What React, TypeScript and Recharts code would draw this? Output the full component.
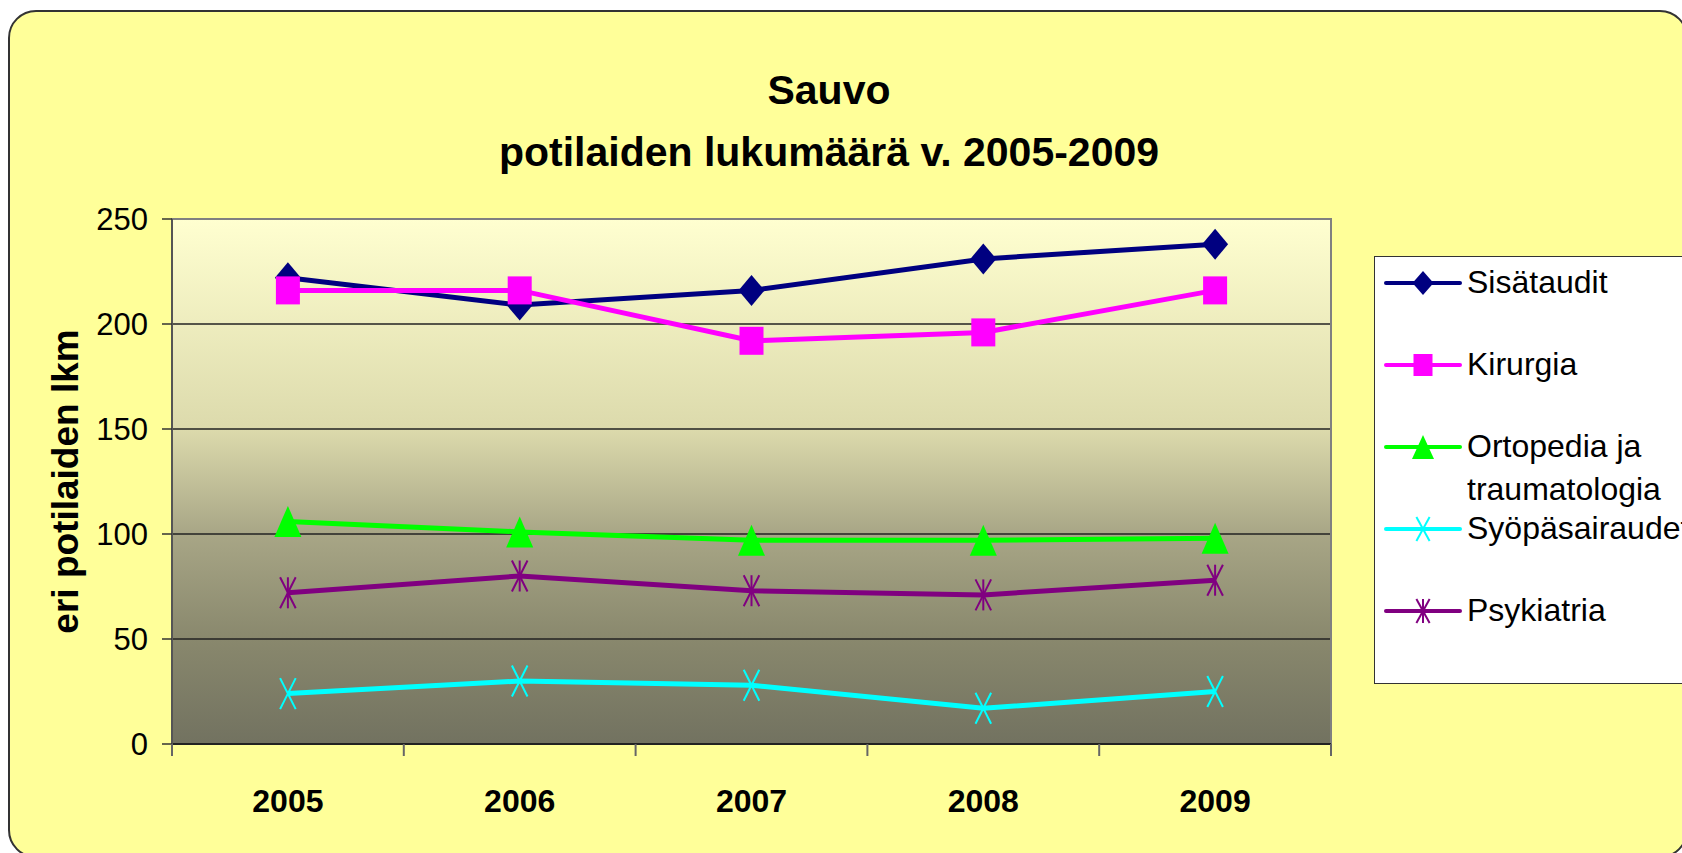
import React from 'react'
import {
  ComposedChart,
  Line,
  XAxis,
  YAxis,
  CartesianGrid,
  Legend,
  ReferenceArea,
} from 'recharts'

const years = ['2005', '2006', '2007', '2008', '2009']
const sisataudit = [222, 209, 216, 231, 238]
const kirurgia = [216, 216, 192, 196, 216]
const ortopedia = [106, 101, 97, 97, 98]
const syopasairaudet = [24, 30, 28, 17, 25]
const psykiatria = [72, 80, 73, 71, 78]
const yTicks = [0, 50, 100, 150, 200, 250]

const FONT = '"Liberation Sans", Arial, sans-serif'

type Shape = 'diamond' | 'square' | 'triangle' | 'x' | 'star'

const series: { key: string; name: string; color: string; shape: Shape }[] = [
  { key: 'sis', name: 'Sisätaudit', color: '#000080', shape: 'diamond' },
  { key: 'kir', name: 'Kirurgia', color: '#FF00FF', shape: 'square' },
  { key: 'ort', name: 'Ortopedia ja traumatologia', color: '#00FF00', shape: 'triangle' },
  { key: 'syo', name: 'Syöpäsairaudet', color: '#00FFFF', shape: 'x' },
  { key: 'psy', name: 'Psykiatria', color: '#800080', shape: 'star' },
]

const data = years.map((year, i) => ({
  year,
  sis: sisataudit[i],
  kir: kirurgia[i],
  ort: ortopedia[i],
  syo: syopasairaudet[i],
  psy: psykiatria[i],
}))

// marker sizes (w, h) in the plot and in the legend
const plotSize: Record<Shape, [number, number]> = {
  diamond: [26, 31],
  square: [24, 28],
  triangle: [27, 31],
  x: [26, 31],
  star: [26, 31],
}
const legendSize: Record<Shape, [number, number]> = {
  diamond: [21, 24],
  square: [19, 22],
  triangle: [22, 24],
  x: [22, 24],
  star: [22, 24],
}

const PLOT_W = 1159

function Marker({ shape, cx, cy, color, w, h }: { shape: Shape; cx: number; cy: number; color: string; w: number; h: number }) {
  const l = cx - w / 2
  const r = cx + w / 2
  const t = cy - h / 2
  const b = cy + h / 2
  if (shape === 'diamond') {
    return <polygon points={`${cx},${t} ${r},${cy} ${cx},${b} ${l},${cy}`} fill={color} />
  }
  if (shape === 'square') {
    return <rect x={l} y={t} width={w} height={h} fill={color} />
  }
  if (shape === 'triangle') {
    return <polygon points={`${cx},${t} ${r},${b} ${l},${b}`} fill={color} />
  }
  return (
    <g stroke={color} strokeWidth={2}>
      <line x1={l + w * 0.2} y1={t} x2={r - w * 0.2} y2={b} />
      <line x1={r - w * 0.2} y1={t} x2={l + w * 0.2} y2={b} />
      {shape === 'star' && <line x1={cx} y1={t} x2={cx} y2={b} />}
    </g>
  )
}

// year label centred in its band, tick marks on the band edges (Excel style)
function YearTick(props: any) {
  const { x, y, payload, index, visibleTicksCount } = props
  const count = visibleTicksCount || years.length
  const axisW = typeof props.width === 'number' && props.width > 100 ? props.width : PLOT_W
  const half = axisW / count / 2
  return (
    <g>
      <line x1={x - half} y1={y} x2={x - half} y2={y + 12} stroke="#666" strokeWidth={2} />
      {index === count - 1 && (
        <line x1={x + half} y1={y} x2={x + half} y2={y + 12} stroke="#666" strokeWidth={2} />
      )}
      <text
        x={x}
        y={y + 68}
        textAnchor="middle"
        fontSize={32}
        fontWeight="bold"
        fontFamily={FONT}
        fill="#000"
      >
        {payload.value}
      </text>
    </g>
  )
}

function LegendBox({ payload }: any) {
  const names: Record<string, string> = {}
  ;(payload ?? []).forEach((e: any) => {
    names[e.dataKey] = e.value
  })
  return (
    <div
      style={{
        position: 'relative',
        width: 345,
        height: 428,
        background: '#fff',
        border: '1.5px solid #333',
        boxSizing: 'border-box',
        fontFamily: FONT,
        fontSize: 32,
        color: '#000',
      }}
    >
      {series.map((s, i) => {
        const [w, h] = legendSize[s.shape]
        return (
          <div
            key={s.key}
            style={{ position: 'absolute', left: 9, top: 4 + i * 82, height: 42, display: 'flex', alignItems: 'flex-start' }}
          >
            <svg width={78} height={42} style={{ flex: 'none' }}>
              <line x1={2} y1={22} x2={76} y2={22} stroke={s.color} strokeWidth={4} strokeLinecap="round" />
              <Marker shape={s.shape} cx={39} cy={22} color={s.color} w={w} h={h} />
            </svg>
            <div style={{ marginLeft: 5, width: 200, lineHeight: '43px', whiteSpace: s.name.includes(' ') ? 'normal' : 'nowrap' }}>
              {names[s.key] ?? s.name}
            </div>
          </div>
        )
      })}
    </div>
  )
}

export default function App() {
  return (
    <div style={{ position: 'absolute', left: 0, top: 0, width: 1682, height: 853, overflow: 'hidden' }}>
      <div
        style={{
          position: 'absolute',
          left: 8,
          top: 10,
          width: 1680,
          height: 848,
          background: '#FFFF99',
          border: '2px solid #333',
          borderRadius: 28,
          boxSizing: 'border-box',
        }}
      />
      <div
        style={{
          position: 'absolute',
          left: 329,
          top: 59,
          width: 1000,
          textAlign: 'center',
          fontFamily: FONT,
          fontWeight: 'bold',
          fontSize: 41,
          lineHeight: '62px',
          color: '#000',
        }}
      >
        Sauvo
        <br />
        potilaiden lukumäärä v. 2005-2009
      </div>
      <div style={{ position: 'absolute', left: 0, top: 0 }}>
        <ComposedChart
          width={1682}
          height={853}
          data={data}
          margin={{ top: 219, right: 351, bottom: 36, left: 0 }}
        >
          <defs>
            <linearGradient id="plotGrad" x1="0" y1="0" x2="0" y2="1">
              <stop offset="0" stopColor="#FFFFD0" />
              <stop offset="0.4" stopColor="#DCDAAC" />
              <stop offset="0.6" stopColor="#A8A686" />
              <stop offset="0.8" stopColor="#89886D" />
              <stop offset="1" stopColor="#727260" />
            </linearGradient>
          </defs>
          <CartesianGrid
            vertical={false}
            stroke="#222"
            strokeWidth={1.5}
            fill="url(#plotGrad)"
            fillOpacity={1}
          />
          <XAxis
            dataKey="year"
            type="category"
            scale="band"
            height={73}
            tickSize={0}
            tickMargin={0}
            tickLine={false}
            axisLine={{ stroke: '#222', strokeWidth: 2 }}
            tick={<YearTick />}
          />
          <YAxis
            domain={[0, 250]}
            ticks={yTicks}
            width={172}
            tickSize={10}
            tickMargin={14}
            tick={{ fontSize: 31, fill: '#000', fontFamily: FONT }}
            axisLine={{ stroke: '#555', strokeWidth: 2 }}
            tickLine={{ stroke: '#333', strokeWidth: 1.5 }}
            label={{
              value: 'eri potilaiden lkm',
              angle: -90,
              position: 'insideLeft',
              offset: 65,
              style: { textAnchor: 'middle', fontSize: 37, fontWeight: 'bold', fill: '#000', fontFamily: FONT },
            }}
          />
          <ReferenceArea y1={0} y2={250} fill="none" stroke="#808080" strokeWidth={2} />
          {series.map((s) => (
            <Line
              key={s.key}
              dataKey={s.key}
              name={s.name}
              stroke={s.color}
              strokeWidth={5}
              isAnimationActive={false}
              activeDot={false}
              dot={(p: any) => (
                <g key={`${s.key}-${p.index}`}>
                  <Marker
                    shape={s.shape}
                    cx={p.cx}
                    cy={p.cy}
                    color={s.color}
                    w={plotSize[s.shape][0]}
                    h={plotSize[s.shape][1]}
                  />
                </g>
              )}
            />
          ))}
          <Legend
            layout="vertical"
            align="center"
            verticalAlign="middle"
            wrapperStyle={{ left: 1374, top: 256, width: 345, height: 428 }}
            content={<LegendBox />}
          />
        </ComposedChart>
      </div>
    </div>
  )
}
